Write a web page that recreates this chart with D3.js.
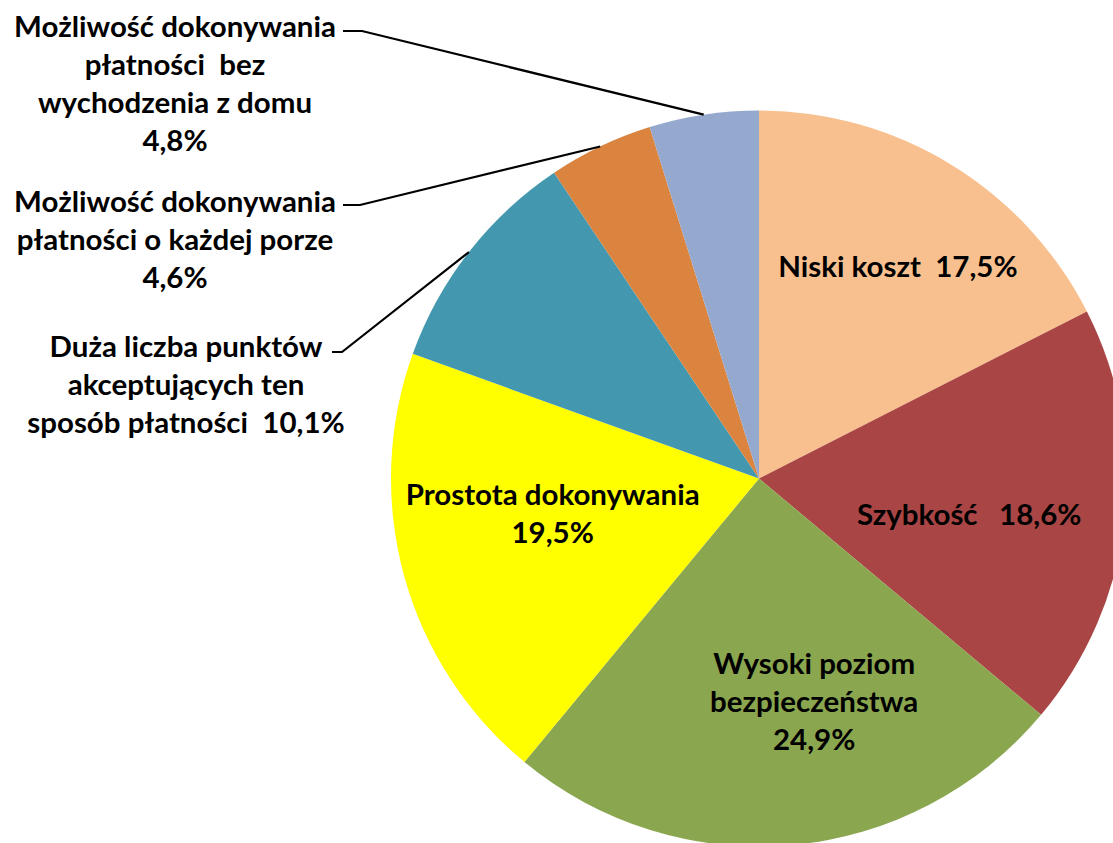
<!DOCTYPE html>
<html>
<head>
<meta charset="utf-8">
<script src="https://cdn.jsdelivr.net/npm/d3@7"></script>
<style>
  html, body { margin: 0; padding: 0; background: #fff; }
  svg { display: block; }
  text { font-family: Lato, "Open Sans", sans-serif; font-weight: bold; fill: #000; }
</style>
</head>
<body>
<svg id="chart" width="1113" height="843"></svg>
<script>
// ---- data ----
const categories = [
  "Niski koszt",
  "Szybkość",
  "Wysoki poziom bezpieczeństwa",
  "Prostota dokonywania",
  "Duża liczba punktów akceptujących ten sposób płatności",
  "Możliwość dokonywania płatności o każdej porze",
  "Możliwość dokonywania płatności bez wychodzenia z domu"
];
const values = [17.5, 18.6, 24.9, 19.5, 10.1, 4.6, 4.8];
const valueLabels = ["17,5%", "18,6%", "24,9%", "19,5%", "10,1%", "4,6%", "4,8%"];
const labelLines = [
  ["Niski koszt  17,5%"],
  ["Szybkość   18,6%"],
  ["Wysoki poziom", "bezpieczeństwa", "24,9%"],
  ["Prostota dokonywania", "19,5%"],
  ["Duża liczba punktów", "akceptujących ten", "sposób płatności  10,1%"],
  ["Możliwość dokonywania", "płatności o każdej porze", "4,6%"],
  ["Możliwość dokonywania", "płatności  bez", "wychodzenia z domu", "4,8%"]
];
const colors = ["#F9C08F", "#A94645", "#8AA64F", "#FFFF00", "#4398AF", "#DA8440", "#95A9CE"];

// ---- layout ----
const cx = 759, cy = 478.5, R = 368;
const lineH = 38;
// label centres: inside labels [angleDeg, radius]; outside labels explicit text block centre x / first line y
const insideLabel = { 0: [33, 255], 1: [99.3, 213], 2: [166, 228], 3: [260.8, 209] };
const outsideLabel = {
  4: { x: 186, y0: 345, elbowX: 332, elbowY: 352, joinX: 342 },
  5: { x: 175, y0: 200, elbowX: 343, elbowY: 205, joinX: 360 },
  6: { x: 175, y0: 25,  elbowX: 343, elbowY: 31,  joinX: 362 }
};

const svg = d3.select("#chart");

// font size fitted to a reference width of the Calibri original
const probe = svg.append("text").attr("font-size", 100).text("Możliwość dokonywania");
const fs = 100 * 322 / probe.node().getComputedTextLength();
probe.remove();

const pie = d3.pie().sort(null).value(d => d)(values);
const arc = d3.arc().innerRadius(0).outerRadius(R);

const g = svg.append("g").attr("transform", `translate(${cx},${cy})`);
g.selectAll("path.slice").data(pie).join("path")
  .attr("class", "slice")
  .attr("d", arc)
  .attr("fill", (d, i) => colors[i]);

// inside labels
pie.forEach((d, i) => {
  if (!(i in insideLabel)) return;
  const [deg, r] = insideLabel[i];
  const a = deg * Math.PI / 180;
  const x = r * Math.sin(a), y = -r * Math.cos(a);
  const lines = labelLines[i];
  const t = g.append("text").attr("text-anchor", "middle").attr("font-size", fs)
    .attr("dominant-baseline", "central");
  lines.forEach((ln, k) => {
    t.append("tspan").attr("x", x).attr("y", y + (k - (lines.length - 1) / 2) * lineH)
      .attr("xml:space", "preserve").style("white-space", "pre").text(ln);
  });
});

// outside labels with leader lines
pie.forEach((d, i) => {
  const o = outsideLabel[i];
  if (!o) return;
  const lines = labelLines[i];
  const t = svg.append("text").attr("text-anchor", "middle").attr("font-size", fs)
    .attr("dominant-baseline", "central");
  lines.forEach((ln, k) => {
    t.append("tspan").attr("x", o.x).attr("y", o.y0 + k * lineH)
      .style("white-space", "pre").text(ln);
  });
  const mid = (d.startAngle + d.endAngle) / 2;
  const ex = cx + R * Math.sin(mid), ey = cy - R * Math.cos(mid);
  svg.append("polyline")
    .attr("points", `${o.elbowX},${o.elbowY} ${o.joinX},${o.elbowY} ${ex},${ey}`)
    .attr("fill", "none").attr("stroke", "#000").attr("stroke-width", 2.2);
});
</script>
</body>
</html>
